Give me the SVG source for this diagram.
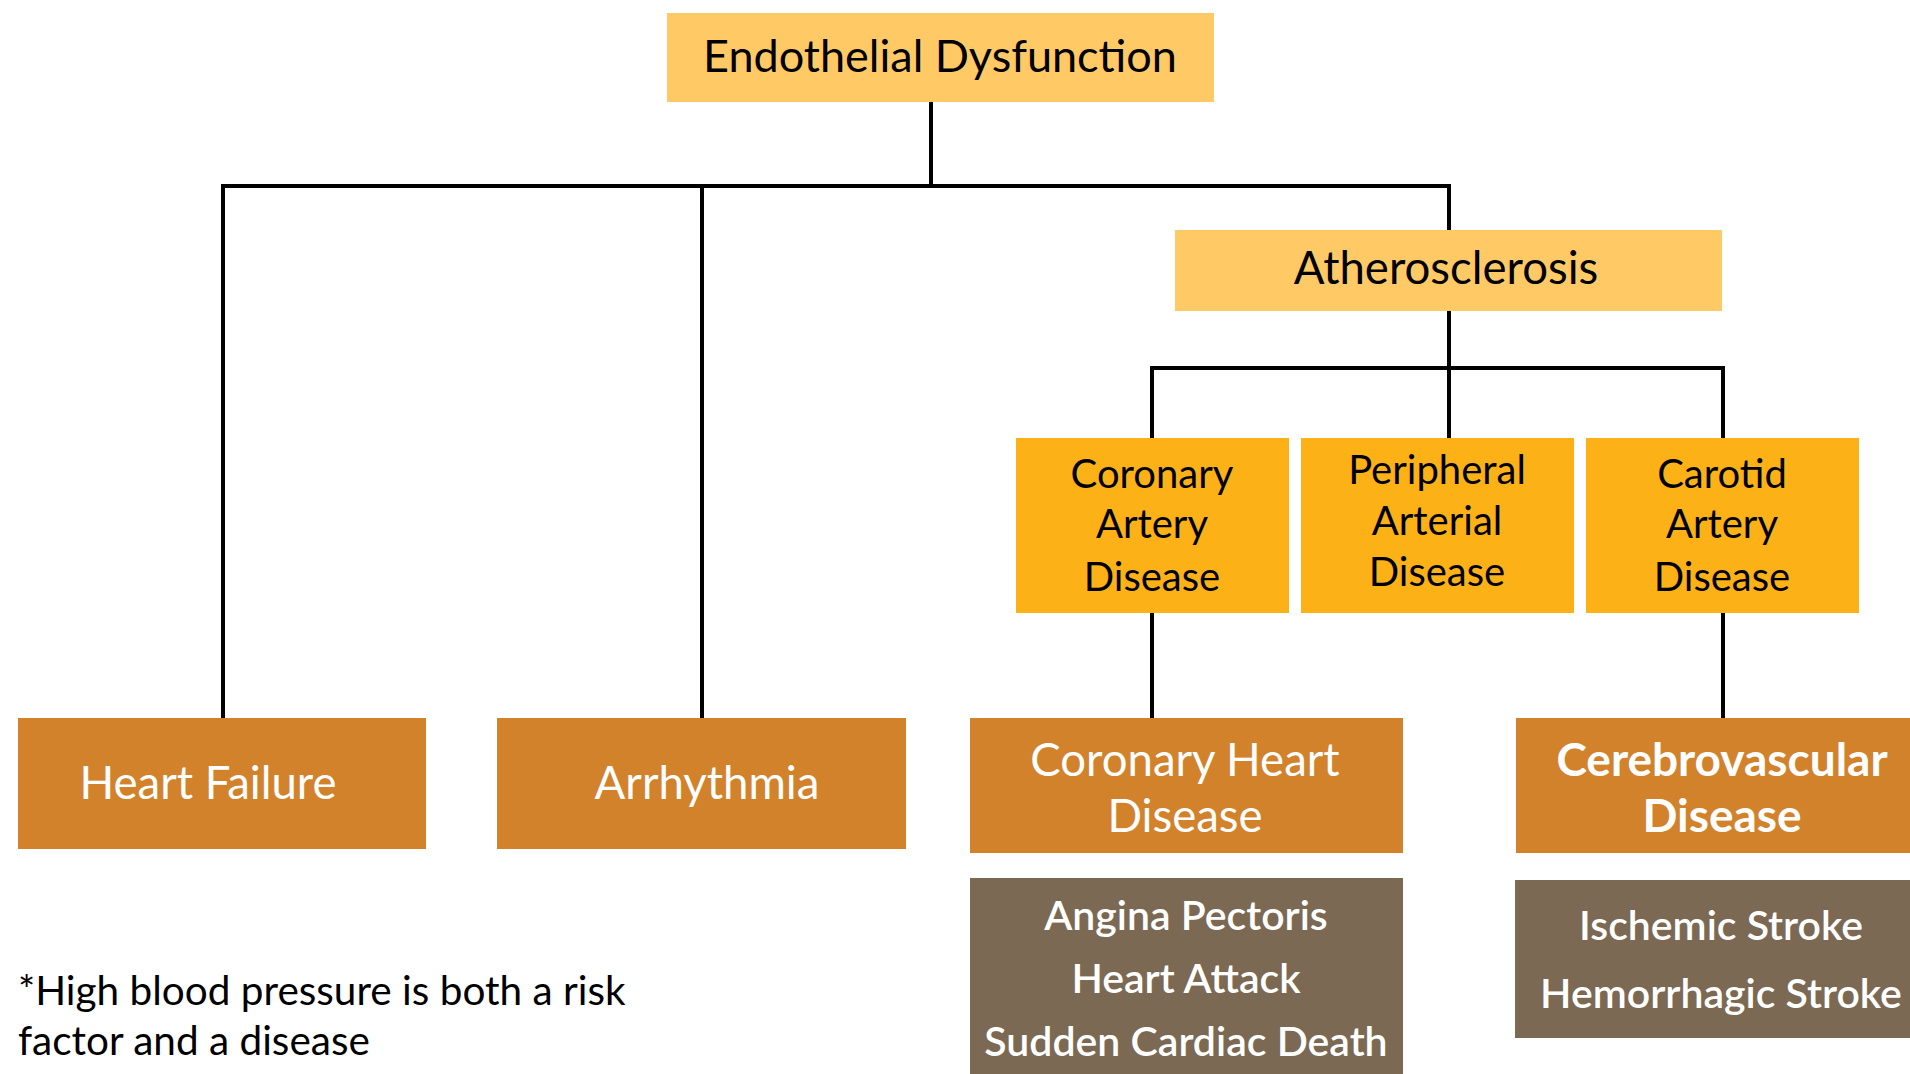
<svg xmlns="http://www.w3.org/2000/svg" width="1910" height="1074" viewBox="0 0 1910 1074">
<style>
.t{font-family:Lato,"Noto Sans",sans-serif;text-anchor:middle}
.dk{fill:#000}
.wh{fill:#fff}
.l1{fill:#FFCA66}
.l2{fill:#FCB216}
.l3{fill:#D3822C}
.l4{fill:#7C6953}
.c{stroke:#000;stroke-width:4;fill:none}
</style>
<rect width="1910" height="1074" fill="#fff"/>
<g id="connectors" class="c">
<path d="M931 102V186M221 186H1451M223 186V718M702 186V718M1449 186V230"/>
<path d="M1449 311V368M1150 368H1725M1152 368V438M1449 368V438M1723 368V438"/>
<path d="M1152 613V718M1723 613V718"/>
</g>
<g id="endothelial">
<rect class="l1" x="667" y="13" width="547" height="89"/>
<text class="t dk" x="940" y="72" font-size="45">Endothelial Dysfunction</text>
</g>
<g id="atherosclerosis">
<rect class="l1" x="1175" y="230" width="547" height="81"/>
<text class="t dk" x="1446" y="284" font-size="45.5">Atherosclerosis</text>
</g>
<g id="cad">
<rect class="l2" x="1016" y="438" width="273" height="175"/>
<text class="t dk" font-size="40"><tspan x="1152" y="488">Coronary</tspan><tspan x="1152" y="538">Artery</tspan><tspan x="1152" y="591">Disease</tspan></text>
</g>
<g id="pad">
<rect class="l2" x="1301" y="438" width="273" height="175"/>
<text class="t dk" font-size="40"><tspan x="1437" y="484">Peripheral</tspan><tspan x="1437" y="535">Arterial</tspan><tspan x="1437" y="586">Disease</tspan></text>
</g>
<g id="carotid">
<rect class="l2" x="1586" y="438" width="273" height="175"/>
<text class="t dk" font-size="40"><tspan x="1722" y="488">Carotid</tspan><tspan x="1722" y="538">Artery</tspan><tspan x="1722" y="591">Disease</tspan></text>
</g>
<g id="heart-failure">
<rect class="l3" x="18" y="718" width="408" height="131"/>
<text class="t wh" x="208" y="799" font-size="45.5">Heart Failure</text>
</g>
<g id="arrhythmia">
<rect class="l3" x="497" y="718" width="409" height="131"/>
<text class="t wh" x="707" y="799" font-size="45.5">Arrhythmia</text>
</g>
<g id="chd">
<rect class="l3" x="970" y="718" width="433" height="135"/>
<text class="t wh" font-size="45.5"><tspan x="1185" y="776">Coronary Heart</tspan><tspan x="1185" y="832">Disease</tspan></text>
</g>
<g id="cvd">
<rect class="l3" x="1516" y="718" width="394" height="135"/>
<text class="t wh" font-size="46" font-weight="bold"><tspan x="1722" y="776">Cerebrovascular</tspan><tspan x="1722" y="832">Disease</tspan></text>
</g>
<g id="chd-outcomes">
<rect class="l4" x="970" y="878" width="433" height="196"/>
<text class="t wh" font-size="41" font-weight="600"><tspan x="1186" y="930">Angina Pectoris</tspan><tspan x="1186" y="993">Heart Attack</tspan><tspan x="1186" y="1056">Sudden Cardiac Death</tspan></text>
</g>
<g id="cvd-outcomes">
<rect class="l4" x="1515" y="880" width="395" height="158"/>
<text class="t wh" font-size="41" font-weight="600"><tspan x="1721" y="940">Ischemic Stroke</tspan><tspan x="1721" y="1008">Hemorrhagic Stroke</tspan></text>
</g>
<g id="note">
<text font-family="Lato,'Noto Sans',sans-serif" font-size="40.5" fill="#000"><tspan x="18" y="1005">*High blood pressure is both a risk</tspan><tspan x="18" y="1055">factor and a disease</tspan></text>
</g>
</svg>
